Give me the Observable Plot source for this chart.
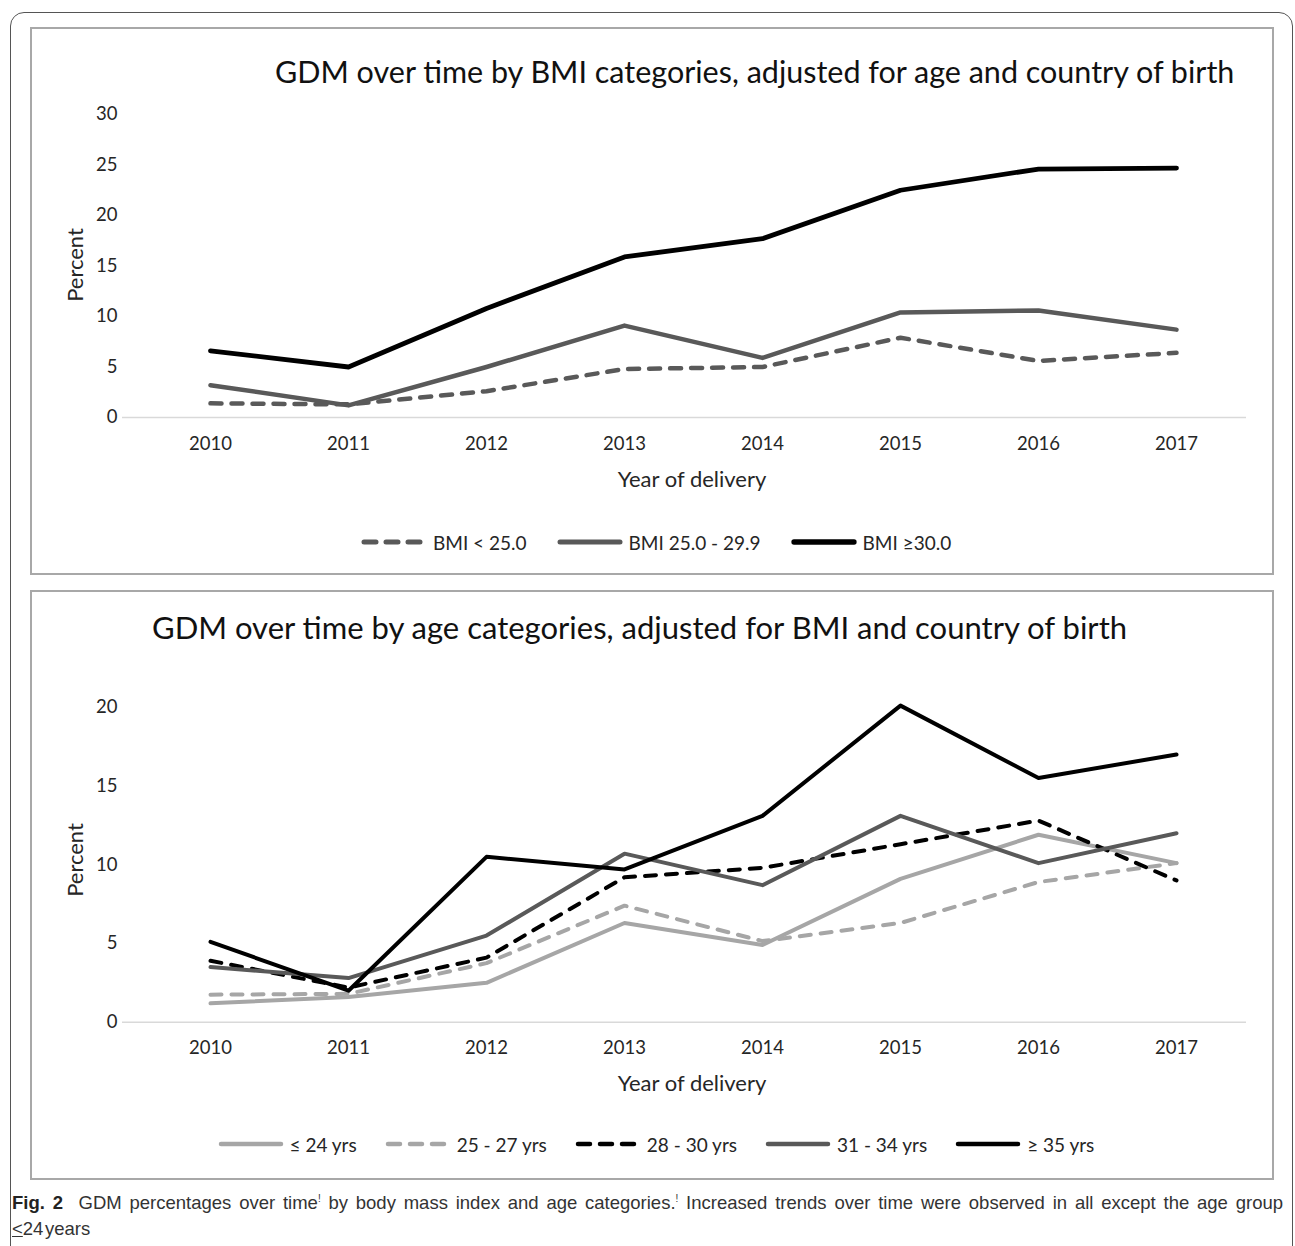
<!DOCTYPE html>
<html>
<head>
<meta charset="utf-8">
<script src="https://cdn.jsdelivr.net/npm/d3@7"></script>
<script src="https://cdn.jsdelivr.net/npm/@observablehq/plot@0.6"></script>
<style>
  html, body { margin: 0; padding: 0; background: #fff; }
  #page { position: relative; width: 1295px; height: 1246px; overflow: hidden; font-family: Lato, "Open Sans", sans-serif; color: #262626; }
  .frame { position: absolute; left: 10px; top: 12px; width: 1281px; height: 1260px; border: 1.5px solid #555; border-radius: 14px; }
  .panel { position: absolute; left: 30px; width: 1240px; border: 2px solid #a8a8a8; }
  .title { position: absolute; font-size: 30.5px; color: #111; white-space: nowrap; line-height: 1; }
  .axlab { position: absolute; font-size: 22px; color: #262626; white-space: nowrap; line-height: 1; }
  .legend { position: absolute; display: flex; align-items: center; font-size: 19px; color: #262626; white-space: nowrap; }
  .legend .item { display: flex; align-items: center; }
  .legend svg { display: block; margin-right: 6px; }
  .caption { position: absolute; left: 12px; width: 1271px; font-family: "Liberation Sans Narrow", "Liberation Sans", sans-serif; font-size: 18.5px; color: #333; line-height: 1; white-space: nowrap; }
  .caption b { color: #222; }
</style>
</head>
<body>
<div id="page">
  <div class="frame"></div>
  <div class="panel" style="top:27px;height:544px;"></div>
  <div class="panel" style="top:590px;height:586px;"></div>
</div>
<script>
// ---------- data ----------
const years = [2010, 2011, 2012, 2013, 2014, 2015, 2016, 2017];

const bmiLabels = ["BMI < 25.0", "BMI 25.0 - 29.9", "BMI \u226530.0"];
const bmiUnder25 = [1.4, 1.3, 2.6, 4.8, 5.0, 7.9, 5.6, 6.4];
const bmi25to29 = [3.2, 1.2, 5.0, 9.1, 5.9, 10.4, 10.6, 8.7];
const bmi30plus = [6.6, 5.0, 10.8, 15.9, 17.7, 22.5, 24.6, 24.7];

const ageLabels = ["\u2264 24 yrs", "25 - 27 yrs", "28 - 30 yrs", "31 - 34 yrs", "\u2265 35 yrs"];
const ageUpTo24 = [1.2, 1.6, 2.5, 6.3, 4.9, 9.1, 11.9, 10.1];
const age25to27 = [1.75, 1.8, 3.75, 7.4, 5.15, 6.3, 8.9, 10.1];
const age28to30 = [3.9, 2.2, 4.1, 9.2, 9.8, 11.3, 12.8, 9.0];
const age31to34 = [3.5, 2.8, 5.5, 10.7, 8.7, 13.1, 10.1, 12.0];
const age35plus = [5.1, 2.0, 10.5, 9.7, 13.1, 20.1, 15.5, 17.0];

const yTicksTop = [0, 5, 10, 15, 20, 25, 30];
const yTicksBottom = [0, 5, 10, 15, 20];

// ---------- styles ----------
const DARK = "#595959", LIGHT = "#a6a6a6", BLACK = "#000000";
const DASH = "11,10";
const bmiStyles = [
  {stroke: DARK, dash: DASH, width: 4.5},
  {stroke: DARK, dash: null, width: 4.5},
  {stroke: BLACK, dash: null, width: 4.8}
];
const ageStyles = [
  {stroke: LIGHT, dash: null, width: 4},
  {stroke: LIGHT, dash: DASH, width: 4},
  {stroke: BLACK, dash: DASH, width: 4},
  {stroke: DARK, dash: null, width: 4},
  {stroke: BLACK, dash: null, width: 4}
];

const page = document.getElementById("page");

function lineMark(values, st) {
  const opts = {
    x: (d, i) => years[i],
    y: d => d,
    stroke: st.stroke,
    strokeWidth: st.width,
    strokeLinecap: "round",
    strokeLinejoin: "round"
  };
  if (st.dash) opts.strokeDasharray = st.dash;
  return Plot.line(values, opts);
}

function makeChart({series, styles, ticks, height, marginTop, marginBottom}) {
  return Plot.plot({
    width: 1295,
    height,
    marginLeft: 122,
    marginRight: 49,
    marginTop,
    marginBottom,
    style: {fontFamily: "Lato, 'Open Sans', sans-serif", fontSize: "18.5px", color: "#262626", background: "transparent", overflow: "visible"},
    x: {type: "point", domain: years, range: [207, 1178], padding: 0},
    y: {domain: [0, d3.max(ticks)]},
    marks: [
      Plot.ruleY([0], {stroke: "#d9d9d9", strokeWidth: 1.6}),
      Plot.axisY({ticks, tickSize: 0, tickPadding: 5, label: null, fontSize: 18.5}),
      Plot.axisX({tickSize: 0, tickPadding: 19, label: null, tickFormat: d => String(d), fontSize: 18.5}),
      ...series.map((s, i) => lineMark(s, styles[i]))
    ]
  });
}

function place(el, left, y0) {
  el.style.position = "absolute";
  el.style.left = left + "px";
  el.style.top = y0 + "px";
  page.appendChild(el);
}

function addText(cls, text, left, y0, extra) {
  const d = document.createElement("div");
  d.className = cls;
  d.textContent = text;
  d.style.left = left + "px";
  d.style.top = y0 + "px";
  if (extra) Object.assign(d.style, extra);
  page.appendChild(d);
  return d;
}

function addLegend(labels, styles, centerX, centerY, gap, sampleW) {
  const lg = document.createElement("div");
  lg.className = "legend";
  labels.forEach((lab, i) => {
    const st = styles[i];
    const item = document.createElement("div");
    item.className = "item";
    if (i > 0) item.style.marginLeft = gap + "px";
    const ns = "http://www.w3.org/2000/svg";
    const svg = document.createElementNS(ns, "svg");
    svg.setAttribute("width", sampleW);
    svg.setAttribute("height", 10);
    const ln = document.createElementNS(ns, "line");
    ln.setAttribute("x1", 3); ln.setAttribute("x2", sampleW - 3);
    ln.setAttribute("y1", 5); ln.setAttribute("y2", 5);
    ln.setAttribute("stroke", st.stroke);
    ln.setAttribute("stroke-width", st.width + 0.5);
    ln.setAttribute("stroke-linecap", "round");
    if (st.dash) ln.setAttribute("stroke-dasharray", "12,10");
    svg.appendChild(ln);
    const sp = document.createElement("span");
    sp.textContent = lab;
    item.appendChild(svg);
    item.appendChild(sp);
    lg.appendChild(item);
  });
  page.appendChild(lg);
  const w = lg.offsetWidth, h = lg.offsetHeight;
  lg.style.left = (centerX - w / 2) + "px";
  lg.style.top = (centerY - h / 2) + "px";
}

const centered = {transform: "translate(-50%, 0)"};
const vertical = {transform: "translate(-50%,-50%) rotate(-90deg)", transformOrigin: "center"};

// ---------- top chart ----------
const chartBMI = makeChart({
  series: [bmiUnder25, bmi25to29, bmi30plus],
  styles: bmiStyles,
  ticks: yTicksTop,
  height: 500,
  marginTop: 114,
  marginBottom: 83
});
place(chartBMI, 0, 0);

addText("title", "GDM over time by BMI categories, adjusted for age and country of birth", 275, 56);
addText("axlab", "Year of delivery", 692, 468, centered);
addText("axlab", "Percent", 75, 265, vertical);
addLegend(bmiLabels, bmiStyles, 656, 542, 30, 66);

// ---------- bottom chart ----------
const chartAge = makeChart({
  series: [ageUpTo24, age25to27, age28to30, age31to34, age35plus],
  styles: ageStyles,
  ticks: yTicksBottom,
  height: 500,
  marginTop: 106.7,
  marginBottom: 78.3
});
place(chartAge, 0, 600);

addText("title", "GDM over time by age categories, adjusted for BMI and country of birth", 152, 612, {fontSize: "31px"});
addText("axlab", "Year of delivery", 692, 1072, centered);
addText("axlab", "Percent", 75, 860, vertical);
addLegend(ageLabels, ageStyles, 656, 1144, 28, 66);

// ---------- caption ----------
const cap1 = document.createElement("div");
cap1.className = "caption";
cap1.style.top = "1194px";
cap1.style.textAlign = "justify";
cap1.style.textAlignLast = "justify";
cap1.innerHTML = '<b>Fig. 2</b>&nbsp; GDM percentages over time<sup style="font-size:10px">!</sup> by body mass index and age categories.<sup style="font-size:10px">!</sup> Increased trends over time were observed in all except the age group';
page.appendChild(cap1);
const cap2 = document.createElement("div");
cap2.className = "caption";
cap2.style.top = "1220px";
cap2.innerHTML = '<span style="text-decoration:underline">&lt;</span>24&#8202;years';
page.appendChild(cap2);
</script>
</body>
</html>
